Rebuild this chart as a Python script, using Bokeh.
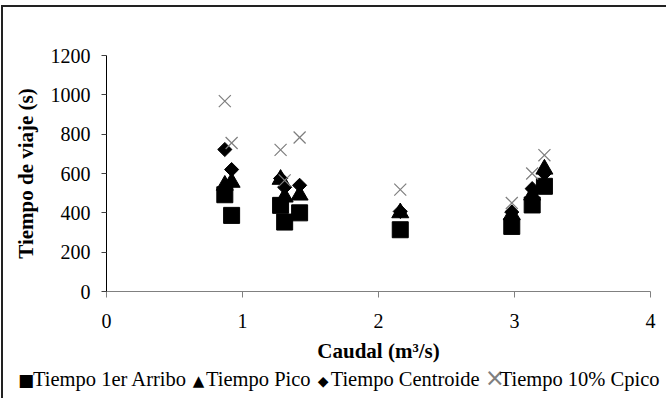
import numpy as np
from bokeh.plotting import figure
from bokeh.layouts import column
from bokeh.models import Range1d, FixedTicker, Div
from bokeh.embed import file_html
from bokeh.resources import INLINE

# Data
caudal = [0.87, 0.92, 1.28, 1.31, 1.42, 2.16, 2.98, 3.13, 3.22]
t_arribo = [492, 387, 438, 353, 400, 314, 331, 440, 535]
t_pico = [540, 555, 570, 480, 490, 400, 390, 490, 622]
t_centroide = [722, 620, 575, 530, 540, 407, 404, 523, 600]
t_10cpico = [968, 755, 720, 565, 783, 518, 450, 600, 693]

series_names = ["Tiempo 1er Arribo", "Tiempo Pico", "Tiempo Centroide", "Tiempo 10% Cpico"]
x_ticks = [0, 1, 2, 3, 4]
y_ticks = [0, 200, 400, 600, 800, 1000, 1200]

FONT = "Liberation Serif"

STYLES = [
    dict(marker="square", size=16, color="black"),
    dict(marker="triangle", size=17, color="black"),
    dict(marker="square", angle=np.pi / 4, size=10, color="black"),
    dict(marker="x", size=17, line_color="#7f7f7f", line_width=1.2),
]
# legend swatch symbols (same shapes as the markers)
LEG_SYMBOLS = [("■", "black", "17px"), ("▲", "black", "15px"),
               ("◆", "black", "14px"), ("×", "#7f7f7f", "24px")]

p = figure(width=664, height=361, output_backend="svg", toolbar_location=None,
           x_range=Range1d(0, 4), y_range=Range1d(0, 1200),
           min_border_left=103, min_border_right=17, min_border_top=48,
           min_border_bottom=77)
p.outline_line_color = None
p.xgrid.visible = False
p.ygrid.visible = False

for ys, st in zip([t_arribo, t_pico, t_centroide, t_10cpico], STYLES):
    p.scatter(caudal, ys, **st)

# axes
p.xaxis.ticker = FixedTicker(ticks=x_ticks)
p.yaxis.ticker = FixedTicker(ticks=y_ticks)
p.xaxis.minor_tick_line_color = None
p.yaxis.minor_tick_line_color = None
p.xaxis.axis_line_color = "#808080"
p.xaxis.major_tick_line_color = "#808080"
p.yaxis.axis_line_color = "black"
p.yaxis.major_tick_line_color = "#404040"
p.xaxis.major_tick_in = 0
p.xaxis.major_tick_out = 6
p.yaxis.major_tick_in = 0
p.yaxis.major_tick_out = 5
for ax in (p.xaxis, p.yaxis):
    ax.major_label_text_font = FONT
    ax.major_label_text_font_size = "20px"
    ax.major_label_text_color = "black"
    ax.axis_label_text_font = FONT
    ax.axis_label_text_font_size = "21px"
    ax.axis_label_text_font_style = "bold"
    ax.axis_label_text_color = "black"
p.xaxis.major_label_standoff = 16
p.yaxis.major_label_standoff = 11
p.xaxis.axis_label = "Caudal (m³/s)"
p.yaxis.axis_label = "Tiempo de viaje (s)"
p.xaxis.axis_label_standoff = 8
p.yaxis.axis_label_standoff = 10

# ---- legend strip below the chart ----
SERIF_CSS = "font-family:'Liberation Serif','Times New Roman',serif"
parts = []
for name, (sym, col, fs) in zip(series_names, LEG_SYMBOLS):
    parts.append(
        f'<span style="color:{col};font-size:{fs};font-family:\'DejaVu Sans\';'
        f'display:inline-block;width:15px;text-align:center">{sym}</span>'
        f'<span style="{SERIF_CSS}">{name}</span>'
    )
legend_html = ''.join(
    p_ + '<span style="display:inline-block;width:5px"></span>' for p_ in parts)
leg = Div(text=legend_html, width=664, height=30,
          styles={"font-family": "'Liberation Serif', serif", "font-size": "20.5px",
                  "color": "black", "white-space": "nowrap", "overflow": "hidden",
                  "line-height": "20px", "padding-left": "15px", "margin": "0"})

layout = column(p, leg, spacing=0)
layout.styles = {"border-left": "2px solid #222", "border-top": "2px solid #222",
                 "margin-top": "5px", "margin-left": "1px"}

open("out.html", "w").write(file_html(layout, INLINE))
